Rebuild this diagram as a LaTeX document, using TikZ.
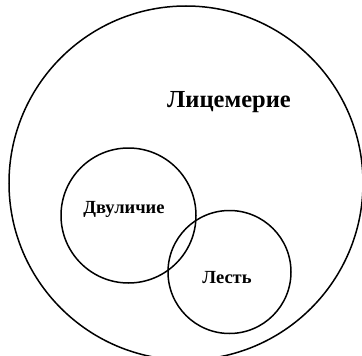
\documentclass[tikz,border=0pt]{standalone}
\usepackage{fontspec}
\setmainfont{Liberation Serif}
\usetikzlibrary{positioning}

\tikzset{
  ring/.style={circle, draw, line width=1.5pt, inner sep=0pt},
  label/.style={font=\bfseries, inner sep=0pt}
}

\begin{document}
\begin{tikzpicture}[x=1pt, y=-1pt]
				\useasboundingbox (0,0) rectangle (362,356);
				\node[ring, minimum size=354pt] (hyp) at (186,183) {};
				\node[ring, minimum size=135pt] (duo) at (128.5,215.5) {};
				\node[ring, minimum size=123pt] (flat) at (229.5,272) {};
				
				\node[label, font=\fontsize{24.5}{28}\selectfont\bfseries] (thyp) at (229,102) {Лицемерие};
				\node[label, font=\fontsize{18.5}{21}\selectfont\bfseries] (tduo) at (124,209) {Двуличие};
				\node[label, font=\fontsize{18.5}{21}\selectfont\bfseries] (tflat) at (227,278) {Лесть};
			\end{tikzpicture}
\end{document}
